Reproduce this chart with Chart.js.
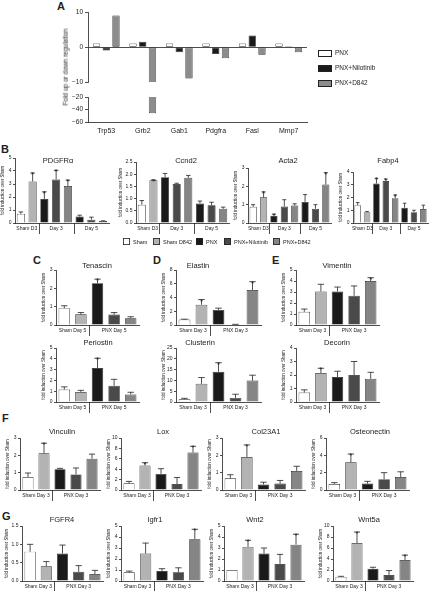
<!DOCTYPE html>
<html><head><meta charset="utf-8">
<script src="https://cdn.jsdelivr.net/npm/chart.js@4.4.0/dist/chart.umd.min.js"></script>
<style>
body{margin:0;background:#fff;width:430px;height:591px;position:relative;overflow:hidden;font-family:"Liberation Sans",Arial,sans-serif;color:#222}
canvas{position:absolute}
.t{position:absolute;white-space:nowrap;line-height:1;color:#222;will-change:transform}
.pl{position:absolute;font-weight:bold;font-size:11px;line-height:1}
.box{position:absolute;border:0.8px solid #222;box-sizing:border-box}
</style></head><body>
<div class="pl" style="left:57px;top:1px">A</div>
<div class="pl" style="left:1px;top:144px">B</div>
<div class="pl" style="left:33px;top:255px">C</div>
<div class="pl" style="left:153px;top:255px">D</div>
<div class="pl" style="left:272px;top:255px">E</div>
<div class="pl" style="left:2px;top:413px">F</div>
<div class="pl" style="left:2px;top:511px">G</div>
<div class="t" style="left:66px;top:67px;font-size:6.5px;transform:translate(-50%,-50%) rotate(-90deg)">Fold up or down regulation</div>
<div id="legA"></div>
<canvas id="legB" width="200" height="12" style="left:120px;top:236px;width:200px;height:12px"></canvas>
<script>
// panel A
const genesA = ["Trp53", "Grb2", "Gab1", "Pdgfra", "Fasl", "Mmp7"];
const pnxA = [1, 1, 1, 1, 1, 1];
const nilotinibA = [-1, 1.5, -1.5, -2, 3.3, 0.2];
const d842A = [9, -46, -9, -3.2, -2.2, -1.5];

// panel B conditions
const condB = ["Sham D3", "Sham D842 D3", "PNX D3", "PNX+Nilotinib D3", "PNX+D842 D3", "PNX D5", "PNX+Nilotinib D5", "PNX+D842 D5"];
const pdgfra = [0.7, 3.2, 1.85, 3.35, 2.85, 0.5, 0.25, 0.15];
const pdgfraErr = [0.85, 3.85, 2.4, 4.05, 3.3, 0.6, 0.45, 0.17];
const pdgfraSig = [0, 1, 1, 1, 1, 0, 0, 0];
const ccnd2 = [0.75, 1.75, 1.88, 1.6, 1.85, 0.8, 0.73, 0.58];
const ccnd2Err = [0.92, 1.77, 2.03, 1.63, 1.95, 0.9, 0.85, 0.65];
const ccnd2Sig = [0, 1, 0, 0, 0, 0, 0, 0];
const acta2 = [0.88, 1.4, 0.4, 0.9, 0.95, 1.15, 0.78, 2.1];
const acta2Err = [1.0, 1.7, 0.48, 1.27, 1.05, 1.55, 1.0, 2.75];
const acta2Sig = [0, 1, 1, 0, 0, 0, 0, 1];
const fabp4 = [1.4, 0.85, 3.1, 3.3, 1.95, 1.2, 0.85, 1.1];
const fabp4Err = [1.6, 0.9, 3.5, 3.45, 2.2, 1.55, 1.0, 1.4];
const fabp4Sig = [0, 0, 1, 1, 1, 0, 0, 0];

// panels C-G
const cond5 = ["Sham", "Sham D842", "PNX", "PNX+Nilotinib", "PNX+D842"];
const tenascin = [0.92, 0.58, 2.28, 0.57, 0.37];
const tenascinErr = [1.05, 0.68, 2.5, 0.68, 0.45];
const tenascinSig = [0, 0, 1, 0, 0];
const periostin = [1.15, 0.92, 3.15, 1.5, 0.7];
const periostinErr = [1.4, 1.08, 4.05, 2.1, 0.9];
const periostinSig = [0, 0, 1, 0, 0];
const elastin = [0.8, 2.95, 2.2, 0.08, 5.1];
const elastinErr = [0.85, 3.7, 2.45, 0.1, 6.3];
const elastinSig = [0, 1, 0, 0, 1];
const clusterin = [1.3, 8.4, 14, 1.9, 9.9];
const clusterinErr = [1.7, 11.3, 18.2, 3.6, 12.4];
const clusterinSig = [0, 0, 1, 0, 0];
const vimentin = [1.2, 3.05, 3.05, 2.65, 4.0];
const vimentinErr = [1.45, 3.7, 3.45, 3.55, 4.3];
const vimentinSig = [0, 0, 0, 0, 1];
const decorin = [0.7, 2.15, 1.85, 2.0, 1.72];
const decorinErr = [0.9, 2.5, 2.28, 3.0, 2.2];
const decorinSig = [0, 1, 0, 0, 0];
const vinculin = [0.75, 2.12, 1.2, 0.9, 1.8];
const vinculinErr = [0.98, 2.7, 1.25, 1.27, 2.07];
const vinculinSig = [0, 1, 0, 0, 0];
const lox = [1.3, 4.7, 3.1, 1.15, 7.2];
const loxErr = [1.65, 5.25, 4.1, 2.4, 8.4];
const loxSig = [0, 1, 0, 0, 1];
const col23a1 = [0.68, 1.9, 0.32, 0.37, 1.1];
const col23a1Err = [0.88, 2.6, 0.45, 0.55, 1.37];
const col23a1Sig = [0, 1, 0, 0, 0];
const osteonectin = [0.7, 3.2, 0.75, 1.25, 1.5];
const osteonectinErr = [0.85, 4.15, 1.0, 2.0, 2.1];
const osteonectinSig = [0, 1, 0, 0, 0];
const fgfr4 = [0.8, 0.4, 0.75, 0.25, 0.19];
const fgfr4Err = [1.0, 0.53, 0.98, 0.42, 0.29];
const fgfr4Sig = [0, 0, 0, 0, 0];
const igfr1 = [0.8, 2.5, 0.9, 0.8, 3.8];
const igfr1Err = [0.9, 3.45, 1.12, 1.2, 4.7];
const igfr1Sig = [0, 0, 0, 0, 1];
const wnt2 = [1.0, 3.1, 2.5, 1.55, 3.3];
const wnt2Err = [1.0, 3.7, 3.0, 2.42, 4.25];
const wnt2Sig = [0, 1, 0, 0, 1];
const wnt5a = [0.75, 6.9, 2.25, 1.1, 3.8];
const wnt5aErr = [0.85, 8.9, 2.5, 1.9, 4.7];
const wnt5aSig = [0, 1, 0, 0, 1];

const WHITE = "#ffffff", LGREY = "#b3b3b3", BLACK = "#1a1a1a", DGREY = "#4a4a4a", GREY = "#858585";
const colorsB = [WHITE, LGREY, BLACK, DGREY, GREY, BLACK, DGREY, GREY];
const colors5 = [WHITE, LGREY, BLACK, DGREY, GREY];
const FONT = "Liberation Sans";
const INK = "#222";

function addCanvas(left, top, w, h) {
	const c = document.createElement("canvas");
	c.width = w; c.height = h;
	c.style.left = left + "px"; c.style.top = top + "px";
	c.style.width = w + "px"; c.style.height = h + "px";
	document.body.appendChild(c);
	return c;
}

function signed(v) {
	return v < 0 ? "\u2212" + (-v) : "" + v;
}

// ----- panel A, broken axis done with two charts -----
function chartA(top, bottom, min, max, step, showX) {
	const left = 68, right = 309;
	const ctop = top - 6;
	const xh = showX ? 16 : 0;
	const cv = addCanvas(left, ctop, right - left, bottom - ctop + (showX ? xh : 1));
	new Chart(cv, {
		type: "bar",
		data: {
			labels: genesA,
			datasets: [
				{ label: "PNX", data: pnxA, backgroundColor: WHITE },
				{ label: "PNX+Nilotinib", data: nilotinibA, backgroundColor: BLACK },
				{ label: "PNX+D842", data: d842A, backgroundColor: "#8c8c8c" },
			].map((d) => Object.assign(d, { borderColor: INK, borderWidth: 0.7, borderSkipped: false, categoryPercentage: 0.8, barPercentage: 0.75 })),
		},
		options: {
			animation: false, responsive: false, devicePixelRatio: 1,
			layout: { padding: { top: 6, right: 2, bottom: showX ? 0 : 1, left: 0 } },
			plugins: { legend: { display: false }, tooltip: { enabled: false } },
			scales: {
				x: {
					display: showX,
					grid: { display: false, drawTicks: false, tickLength: 0 },
					border: { color: INK, width: 0.8 },
					ticks: { font: { family: FONT, size: 7 }, color: INK, padding: 5, maxRotation: 0 },
					afterFit: (s) => { s.height = xh; },
				},
				y: {
					min: min, max: max,
					ticks: { stepSize: step, font: { family: FONT, size: 6.5 }, color: INK, padding: 2, callback: signed },
					grid: {
						color: (c) => (c.tick && c.tick.value === 0 && min < 0 && max > 0 ? INK : "rgba(0,0,0,0)"),
						tickColor: INK, tickLength: 3, lineWidth: 0.8,
					},
					border: { color: INK, width: 0.8 },
					afterFit: (s) => { s.width = 20; },
				},
			},
		},
	});
}
chartA(12, 87, -10, 10, 10, false);
chartA(97, 122, -60, -20, 20, true);

// ----- small bar charts -----
function marksPlugin(o) {
	return {
		id: "marks",
		afterDatasetsDraw(chart) {
			const ctx = chart.ctx, ys = chart.scales.y;
			const bars = chart.getDatasetMeta(0).data;
			const area = chart.chartArea;
			ctx.save();
			ctx.strokeStyle = INK; ctx.fillStyle = INK; ctx.lineWidth = 0.8;
			bars.forEach((b, i) => {
				let top = b.y;
				const e = o.err[i];
				if (e > o.values[i]) {
					const ey = ys.getPixelForValue(e);
					const cw = b.width * 0.28;
					ctx.beginPath();
					ctx.moveTo(b.x, b.y); ctx.lineTo(b.x, ey);
					ctx.moveTo(b.x - cw, ey); ctx.lineTo(b.x + cw, ey);
					ctx.stroke();
					top = ey;
				}
				if (o.sig[i]) {
					ctx.font = "8px " + FONT;
					ctx.textAlign = "center"; ctx.textBaseline = "alphabetic";
					ctx.fillText("*", b.x, top + 4);
				}
			});
			// group labels under the axis
			const bot = area.bottom;
			ctx.beginPath();
			o.seps.forEach((k) => {
				const xs = Math.round((bars[k].x + bars[k + 1].x) / 2) + 0.5;
				ctx.moveTo(xs, bot); ctx.lineTo(xs, bot + 11);
			});
			ctx.stroke();
			ctx.font = "5px " + FONT;
			ctx.textAlign = "center"; ctx.textBaseline = "middle";
			o.groups.forEach((g) => {
				ctx.fillText(g[0], (bars[g[1]].x + bars[g[2]].x) / 2, bot + 5.5);
			});
			// title
			ctx.font = "7.5px " + FONT;
			ctx.fillText(o.title, o.titleX - o.left, o.titleY - o.top);
			ctx.restore();
		},
	};
}

function barChart(o) {
	const L = o.dec ? 18 : 15;
	o.left = o.axisX - L;
	o.top = Math.min(o.yTop - 6, o.titleY - 6);
	const bh = 16;
	const cv = addCanvas(o.left, o.top, o.xEnd - o.left + 2, o.yZero - o.top + bh);
	new Chart(cv, {
		type: "bar",
		data: {
			labels: o.labels,
			datasets: [{
				data: o.values, backgroundColor: o.colors, borderColor: INK, borderWidth: 0.7,
				categoryPercentage: 1, barPercentage: 0.69,
			}],
		},
		options: {
			animation: false, responsive: false, devicePixelRatio: 1,
			layout: { padding: { top: o.yTop - o.top, right: 2, bottom: 0, left: 0 } },
			plugins: { legend: { display: false }, tooltip: { enabled: false } },
			scales: {
				x: {
					grid: { display: false },
					border: { color: INK, width: 0.8 },
					ticks: { display: false },
					afterFit: (s) => { s.height = bh; },
				},
				y: {
					min: 0, max: o.max,
					ticks: {
						stepSize: o.step, font: { family: FONT, size: 5 }, color: INK, padding: 1.5,
						callback: (v) => (o.dec ? v.toFixed(1) : v),
					},
					grid: { drawOnChartArea: false, color: INK, tickLength: 2, lineWidth: 0.8 },
					border: { color: INK, width: 0.8 },
					title: { display: true, text: "fold induction over Sham", font: { family: FONT, size: 4.5 }, color: INK, padding: 0 },
					afterFit: (s) => { s.width = L; },
				},
			},
		},
		plugins: [marksPlugin(o)],
	});
}

const groupsB = [["Sham D3", 0, 1], ["Day 3", 2, 4], ["Day 5", 5, 7]];
const sepsB = [1, 4];
function gr5(day) {
	return [["Sham Day " + day, 0, 1], ["PNX Day " + day, 2, 4]];
}

const charts = [
	{ title: "PDGFR\u03b1", values: pdgfra, err: pdgfraErr, sig: pdgfraSig, max: 5, step: 1, axisX: 15, xEnd: 109, yTop: 158, yZero: 223, titleX: 58, titleY: 161 },
	{ title: "Ccnd2", values: ccnd2, err: ccnd2Err, sig: ccnd2Sig, max: 2.5, step: 0.5, dec: true, axisX: 136, xEnd: 229, yTop: 162, yZero: 223, titleX: 186, titleY: 161 },
	{ title: "Acta2", values: acta2, err: acta2Err, sig: acta2Sig, max: 3, step: 1, axisX: 248, xEnd: 331, yTop: 168, yZero: 223, titleX: 288, titleY: 161 },
	{ title: "Fabp4", values: fabp4, err: fabp4Err, sig: fabp4Sig, max: 4, step: 1, axisX: 353, xEnd: 428, yTop: 172, yZero: 223, titleX: 388, titleY: 161 },
].map((c) => Object.assign(c, { labels: condB, colors: colorsB, groups: groupsB, seps: sepsB }));

const charts5 = [
	{ title: "Tenascin", values: tenascin, err: tenascinErr, sig: tenascinSig, max: 3, step: 1, axisX: 56, xEnd: 139, yTop: 270, yZero: 325, titleX: 97, titleY: 266, day: 5 },
	{ title: "Elastin", values: elastin, err: elastinErr, sig: elastinSig, max: 8, step: 2, axisX: 176, xEnd: 261, yTop: 270, yZero: 325, titleX: 198, titleY: 266, day: 3 },
	{ title: "Vimentin", values: vimentin, err: vimentinErr, sig: vimentinSig, max: 5, step: 1, axisX: 296, xEnd: 379, yTop: 270, yZero: 325, titleX: 337, titleY: 266, day: 3 },
	{ title: "Periostin", values: periostin, err: periostinErr, sig: periostinSig, max: 5, step: 1, axisX: 56, xEnd: 139, yTop: 348, yZero: 402, titleX: 98, titleY: 343, day: 5 },
	{ title: "Clusterin", values: clusterin, err: clusterinErr, sig: clusterinSig, max: 25, step: 5, axisX: 176, xEnd: 261, yTop: 348, yZero: 402, titleX: 200, titleY: 343, day: 3 },
	{ title: "Decorin", values: decorin, err: decorinErr, sig: decorinSig, max: 4, step: 1, axisX: 296, xEnd: 379, yTop: 348, yZero: 402, titleX: 337, titleY: 343, day: 3 },
	{ title: "Vinculin", values: vinculin, err: vinculinErr, sig: vinculinSig, max: 3, step: 1, axisX: 20, xEnd: 100, yTop: 438, yZero: 490, titleX: 62, titleY: 432, day: 3 },
	{ title: "Lox", values: lox, err: loxErr, sig: loxSig, max: 10, step: 2, axisX: 121, xEnd: 201, yTop: 438, yZero: 490, titleX: 163, titleY: 432, day: 3 },
	{ title: "Col23A1", values: col23a1, err: col23a1Err, sig: col23a1Sig, max: 3, step: 1, axisX: 222, xEnd: 305, yTop: 438, yZero: 490, titleX: 266, titleY: 432, day: 3 },
	{ title: "Osteonectin", values: osteonectin, err: osteonectinErr, sig: osteonectinSig, max: 6, step: 2, axisX: 326, xEnd: 409, yTop: 438, yZero: 490, titleX: 370, titleY: 432, day: 3 },
	{ title: "FGFR4", values: fgfr4, err: fgfr4Err, sig: fgfr4Sig, max: 1.5, step: 0.5, dec: true, axisX: 22, xEnd: 103, yTop: 526, yZero: 581, titleX: 62, titleY: 520, day: 3 },
	{ title: "Igfr1", values: igfr1, err: igfr1Err, sig: igfr1Sig, max: 5, step: 1, axisX: 121, xEnd: 203, yTop: 526, yZero: 581, titleX: 155, titleY: 520, day: 3 },
	{ title: "Wnt2", values: wnt2, err: wnt2Err, sig: wnt2Sig, max: 5, step: 1, axisX: 224, xEnd: 304, yTop: 526, yZero: 581, titleX: 255, titleY: 520, day: 3 },
	{ title: "Wnt5a", values: wnt5a, err: wnt5aErr, sig: wnt5aSig, max: 10, step: 2, axisX: 333, xEnd: 413, yTop: 526, yZero: 581, titleX: 369, titleY: 520, day: 3 },
].map((c) => Object.assign(c, { labels: cond5, colors: colors5, groups: gr5(c.day), seps: [1] }));

charts.concat(charts5).forEach(barChart);

// ----- legends -----
function legendItem(parent, x, y, w, h, fill, text, size) {
	const b = document.createElement("div");
	b.className = "box";
	b.style.cssText = `left:${x}px;top:${y}px;width:${w}px;height:${h}px;background:${fill}`;
	parent.appendChild(b);
	const t = document.createElement("div");
	t.className = "t";
	t.style.cssText = `left:${x + w + 3}px;top:${Math.round(y + h / 2 - size / 2)}px;font-size:${size}px`;
	t.textContent = text;
	parent.appendChild(t);
}
const legA = document.getElementById("legA");
legendItem(legA, 318, 50, 14, 7, WHITE, "PNX", 6.5);
legendItem(legA, 318, 65, 14, 7, BLACK, "PNX+Nilotinib", 6.5);
legendItem(legA, 318, 80, 14, 7, "#8c8c8c", "PNX+D842", 6.5);

// legend B drawn on a small canvas (left edge at x=120, top at y=236)
const legBText = ["Sham", "Sham D842", "PNX", "PNX+Nilotinib", "PNX+D842"];
const legBX = [123, 153, 196, 224, 273];
const lctx = document.getElementById("legB").getContext("2d");
lctx.lineWidth = 0.8;
lctx.strokeStyle = INK;
lctx.font = "5.5px " + FONT;
lctx.textBaseline = "middle";
legBText.forEach((t, i) => {
	const x = legBX[i] - 120;
	lctx.fillStyle = colors5[i];
	lctx.fillRect(x, 2, 7, 7);
	lctx.strokeRect(x + 0.4, 2.4, 6.2, 6.2);
	lctx.fillStyle = INK;
	lctx.fillText(t, x + 10, 6);
});
</script>
</body></html>
